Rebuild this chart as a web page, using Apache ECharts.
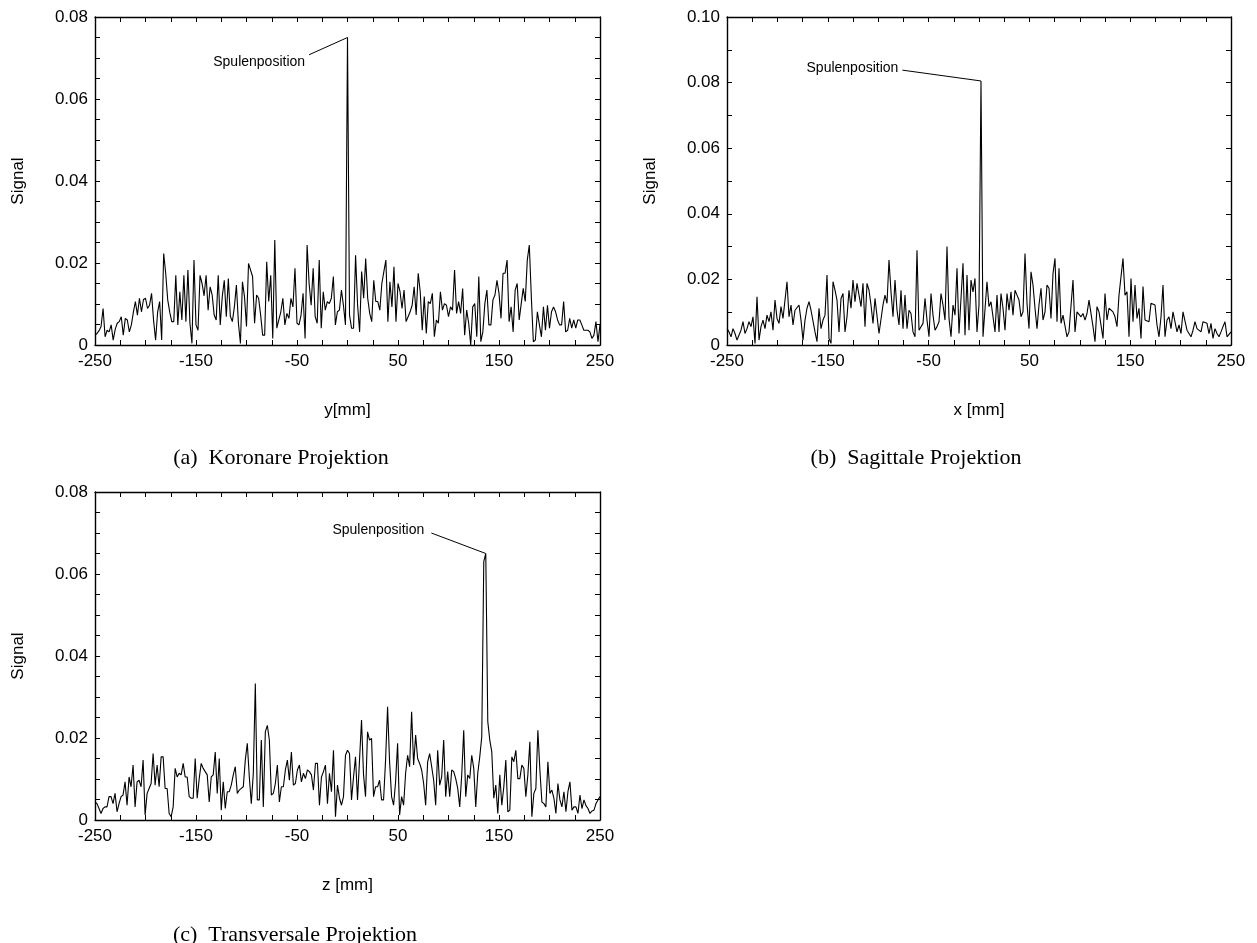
<!DOCTYPE html>
<html><head><meta charset="utf-8">
<script src="https://cdn.jsdelivr.net/npm/echarts@6/dist/echarts.min.js"></script>
<style>html,body{margin:0;padding:0;background:#fff}#c{width:1257px;height:943px}</style>
</head><body><div id="c"></div>
<script>
// Signal values in units of 1e-3, evenly sampled from -250 mm to 250 mm
const signalKoronar = [
2.4,2.8,3.5,4.5,8.9,2,3.6,3.2,4.9,1.2,3.8,5.3,5.7,6.9,2.4,6.5,6.1,3.2,4.9,8,10.6,7.3,11.4,8.1,11.1,11.4,8.9,9.7,12.6,6,1.2,8,10.6,1.2,22.3,17.5,11,8,5.7,5.7,17,4.9,13,6.1,17,5.7,18.3,5.3,0.4,20.7,4.9,3.6,17,15,12,17,8.5,14.2,12.2,7.3,6.1,17,4.9,11.8,15.8,6.9,16.2,7,5.7,9.3,14.6,5.3,0.4,15.4,11.8,4.5,19.9,18.3,16.7,5.3,12.2,11.4,
7.3,2.4,2.4,20.3,10.6,17,1.6,25.6,4.1,6.1,8.1,11.4,4.9,7.7,6.5,11.4,9.3,18.7,5.3,4.9,7.3,12.6,1.6,24.4,15,9.7,18.7,6.9,5.3,20.7,4.1,13,8.5,10.6,10.1,11.4,16.7,4.9,8.1,8.5,13.4,9.6,4.9,
75,
7.3,4.1,4.1,21.9,9.7,3.2,17.9,11.4,21.1,11.4,7.7,5.7,15.8,10.6,10.6,8.5,15,17.9,20.7,5.7,15.4,9.3,19.1,5.7,15,13,8.9,13.4,5.7,6.9,8.1,9.7,14.2,7.3,17.5,13,3.6,11.8,2.8,
10.6,10.1,12.6,2,6.1,5.3,13,8.5,10.1,9.7,6.9,9.3,8.5,18.3,7.7,10.6,7.7,13.8,2.4,8.5,5.3,0,9.3,10.1,2,16.7,0.8,3.2,10.1,13.4,4.9,4.9,11,12.2,15.8,12.6,6.5,17.5,17.5,20.7,5.7,9.3,3.2,13.4,15,6.1,10.1,13.8,10.6,20.7,24.4,11.8,0.8,1.2,8.1,4.9,2,9.3,3.6,9.7,4.1,8.1,9.3,8.1,6.1,4.9,4.9,10.6,3.2,3.6,6.5,4.1,6.1,4.1,6.1,6.1,4.9,3.6,3.6,3.6,3.2,1.6,2.4,5.7,0.8,4.9
];
const signalSagittal = [
5,4,2.5,5,3.5,1.5,2,4.5,7.1,3.5,5,7.1,5.6,8.6,0.5,14.7,1.5,5.6,7.6,5,9.1,7.1,10.1,4.5,13.7,8.1,6.6,11.7,8.1,8.6,19.3,8.6,12.2,6.1,10.6,10.6,12.2,7.6,1.5,7.6,11.2,13.2,10.6,10.1,4,1,11.2,5,7.6,9.1,21.3,2,0.5,19.3,16.7,13.7,4,14.2,15.7,4,8.6,16.7,11.2,19.8,13.2,18.8,18.3,11.7,18.8,5.6,18.8,16.7,12.2,6.6,14.2,13.7,3.5,3,12.2,
15.2,12.7,25.9,16.2,8.6,19.8,10.6,6.1,16.7,5,15.2,5,10.6,9.6,4,2.5,28.9,4.5,4.5,6.6,14.2,7.6,2.5,15.7,9.1,4.5,5.6,7.1,15.7,12.2,7.6,30,8.1,2.5,12.2,9.1,23.4,3.5,14.2,24.9,3,21.3,4.5,19.8,16.2,20.3,4,12.2,
80.5,
2.5,3,19.3,11.7,13.2,12.7,4,15.2,4,15.7,11.2,4.5,15.7,10.6,16.2,9.1,16.7,15.2,13.7,8.6,10.1,27.9,12.7,5,22.3,18.3,11.2,5,12.2,17.3,7.6,10.1,18.3,17.3,8.1,21.8,26.4,
7.1,23.4,6.6,9.1,8.6,2.5,4,4,19.8,4,10.1,9.6,8.6,9.6,7.6,9.6,13.7,14.2,5.6,1,11.7,10.1,10.6,2,15.7,7.6,11.2,11.2,10.1,8.6,5.6,15.2,14.7,26.4,15.2,16.2,2.5,20.3,7.1,18.3,8.1,11.2,2,17.8,7.6,7.6,7.1,12.7,12.2,12.2,6.1,2.5,8.6,18.3,2.5,7.6,8.6,5,10.1,9.6,4,6.1,3.5,10.1,9.6,4.5,5,2.5,4.5,7.1,5,5,4,7.1,6.6,6.6,3.5,6.6,2,5,3.5,2.5,4,5.6,7.1,2.5,2.5,4
];
const signalTransversal = [
4.4,4,2.8,1.6,2.8,3.2,3.2,5.7,5.7,4,6.5,2,4,5.7,6.1,9.3,3.6,10.5,8.1,13.4,3.2,9.3,9.7,8.1,14.6,1.2,6.5,7.7,8.9,16.2,8.5,13.4,8.1,15.4,15.4,7.7,7.7,1.6,0.8,3.2,12.6,10.5,11.4,11,13.8,10.5,10.5,5.7,5.3,5.3,15,5.3,10.1,13.8,12.6,11.8,11,4.4,10.5,11,16.6,6.5,15,2.4,9.3,2.8,6.9,6.9,8.5,11,13,6.5,7.3,7.7,8.1,14.6,18.7,10.5,4,11.4,33.3,4.9,4.9,
19.5,3.2,21.5,23.1,19.5,6.1,6.5,8.9,13.4,4.4,8.1,8.1,12.2,14.6,9.7,16.6,8.5,8.9,12.2,13.4,9.3,11.4,10.1,12.2,11.8,11,7.3,13.8,13.8,3.6,10.5,11.8,13.4,4,11.4,6.9,17,0.8,8.5,5.3,3.6,5.7,15.8,17,16.2,4.9,10.5,15.4,4.9,14.6,24.4,11,5.7,21.5,19.5,19.9,5.7,8.1,8.1,9.7,4.9,4.9,14.6,27.6,14.2,5.7,3.6,9.3,18.7,1.2,5.7,3.6,11.4,15.8,13,26.4,13.4,20.7,15,13.8,12.2,8.9,3.6,14.2,16.2,
13,9.7,3.6,17,8.5,10.5,19.5,5.7,11.8,5.7,12.2,11.8,10.1,7.7,3.2,11,21.9,5.7,11,10.1,15.8,12.6,3.2,11.4,15.4,20.3,63,65,24,19.5,16.6,5.3,8.5,1.6,11,3.6,8.1,14.6,2,2.4,15.4,14.2,17,10.1,10.1,13.4,12.6,5.7,11,19.1,0.8,6.5,7.7,21.9,12.2,4.4,4,3.2,14.2,6.5,7.3,5.3,1.6,8.9,4.9,3.2,6.9,2,6.9,9.3,2.4,3.2,3.2,1.6,6.1,2.8,4.9,3.5,2.8,1.6,2.2,2.4,4,4.9,5.7
];
const xRange = [-250, 250];
const xLabelTicks = [-250, -150, -50, 50, 150, 250];
const xNames = ['y[mm]', 'x [mm]', 'z [mm]'];
const yNames = ['Signal', 'Signal', 'Signal'];
const yMaxes = [0.08, 0.10, 0.08];
const yLabelStep = 0.02;
const captions = ['(a)  Koronare Projektion', '(b)  Sagittale Projektion', '(c)  Transversale Projektion'];
const annotationText = 'Spulenposition';
</script>
<script>
const SIGNALS = [signalKoronar, signalSagittal, signalTransversal];
const GRIDS = [
  {left: 95, top: 17, width: 505, height: 328},
  {left: 727, top: 17, width: 504, height: 328},
  {left: 95, top: 492, width: 505, height: 328}
];
const Y_MINOR = [0.005, 0.01, 0.005];
// annotation anchors in data coordinates: [textEndX, textY, lineStartX, lineStartY]
const ANNOT = [
  [-42, 0.0690, -38, 0.0708],
  [-80, 0.0843, -76, 0.0838],
  [76, 0.0706, 83, 0.0700]
];
const CAPTION_POS = [[281, 458], [916, 458], [295, 935]];

const FONT = 'Liberation Sans, Arial, Helvetica, sans-serif';
const chart = echarts.init(document.getElementById('c'), null, {renderer: 'canvas'});

const grid = [], xAxis = [], yAxis = [], series = [];
SIGNALS.forEach((sig, i) => {
  grid.push(Object.assign({containLabel: false}, GRIDS[i]));
  const n = sig.length;
  const pts = sig.map((v, k) => [xRange[0] + k * (xRange[1] - xRange[0]) / (n - 1), v / 1000]);
  let pk = 0; pts.forEach((p, k) => { if (p[1] > pts[pk][1]) pk = k; });
  const peak = pts[pk];
  const axLine = {show: true, onZero: false, lineStyle: {color: '#000', width: 1.4}};
  const tick = {show: true, inside: true, length: 5, lineStyle: {color: '#000', width: 1}};
  const xFmt = v => xLabelTicks.some(t => Math.abs(t - v) < 1e-6) ? String(Math.round(v)) : '';
  const yFmt = v => {
    const r = Math.round(v / yLabelStep * 1000) / 1000;
    if (Math.abs(r - Math.round(r)) > 1e-6) return '';
    return v === 0 ? '0' : v.toFixed(2);
  };
  xAxis.push({type: 'value', gridIndex: i, min: xRange[0], max: xRange[1], interval: 25, position: 'bottom',
    axisLine: axLine, axisTick: tick, splitLine: {show: false},
    axisLabel: {formatter: xFmt, color: '#000', fontSize: 17, fontFamily: FONT, margin: 8, showMinLabel: true, showMaxLabel: true},
    name: xNames[i], nameLocation: 'middle', nameGap: 57,
    nameTextStyle: {color: '#000', fontSize: 17, fontFamily: FONT}});
  xAxis.push({type: 'value', gridIndex: i, min: xRange[0], max: xRange[1], interval: 25, position: 'top',
    axisLine: axLine, axisTick: tick, splitLine: {show: false}, axisLabel: {show: false}});
  yAxis.push({type: 'value', gridIndex: i, min: 0, max: yMaxes[i], interval: Y_MINOR[i], position: 'left',
    axisLine: axLine, axisTick: tick, splitLine: {show: false},
    axisLabel: {formatter: yFmt, color: '#000', fontSize: 17, fontFamily: FONT, margin: 7, showMinLabel: true, showMaxLabel: true},
    name: yNames[i], nameLocation: 'middle', nameGap: 68, nameRotate: 90,
    nameTextStyle: {color: '#000', fontSize: 17, fontFamily: FONT}});
  yAxis.push({type: 'value', gridIndex: i, min: 0, max: yMaxes[i], interval: Y_MINOR[i], position: 'right',
    axisLine: axLine, axisTick: tick, splitLine: {show: false}, axisLabel: {show: false}});
  const a = ANNOT[i];
  series.push({type: 'line', xAxisIndex: 2 * i, yAxisIndex: 2 * i, data: pts, symbol: 'none',
    lineStyle: {color: '#000', width: 1.1}, animation: false, silent: true,
    markLine: {silent: true, symbol: ['none', 'none'], animation: false, label: {show: false},
      lineStyle: {color: '#000', width: 1, type: 'solid'},
      data: [[{coord: [a[2], a[3]]}, {coord: [peak[0], peak[1]]}]]},
    markPoint: {silent: true, animation: false, symbol: 'circle', symbolSize: 0,
      label: {show: true, position: 'left', distance: 0, formatter: annotationText, color: '#000', fontSize: 14, fontFamily: FONT},
      data: [{coord: [a[0], a[1]]}]}
  });
});

chart.setOption({animation: false, backgroundColor: '#fff', grid, xAxis, yAxis, series,
  graphic: captions.map((t, i) => ({type: 'text', x: CAPTION_POS[i][0], y: CAPTION_POS[i][1],
    style: {text: t, fill: '#000', font: '22px "Liberation Serif", "Times New Roman", serif', align: 'center', verticalAlign: 'middle'}}))});
</script>
</body></html>
